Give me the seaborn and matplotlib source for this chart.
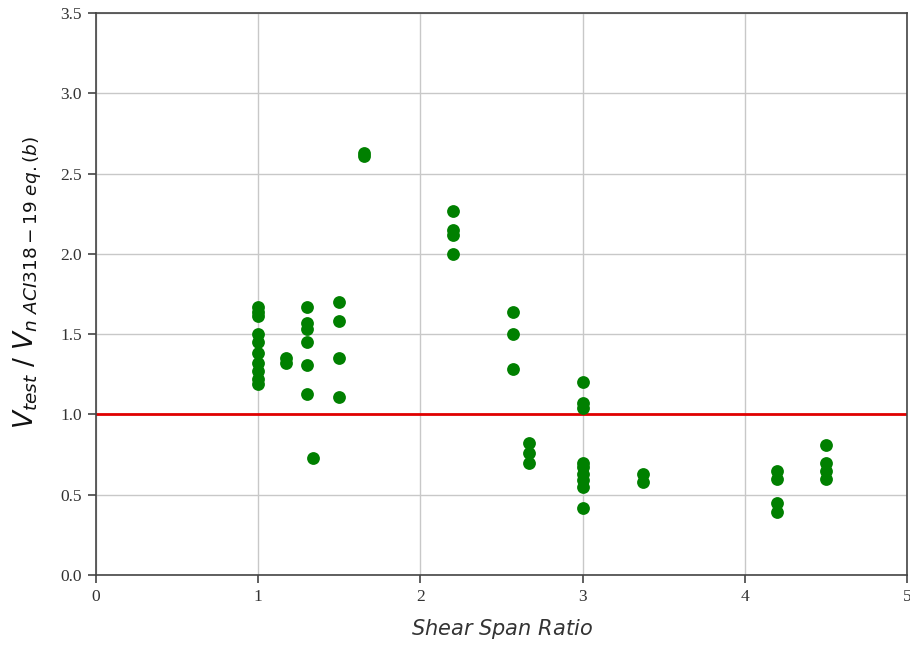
import matplotlib
matplotlib.use("Agg")
import matplotlib.pyplot as plt
import seaborn as sns
import pandas as pd

shear_span_ratio = (
    [1.0] * 10
    + [1.17, 1.17]
    + [1.3] * 6
    + [1.34]
    + [1.5] * 4
    + [1.65, 1.65]
    + [2.2] * 4
    + [2.57] * 3
    + [2.67] * 3
    + [3.0] * 9
    + [3.37, 3.37]
    + [4.2] * 4
    + [4.5] * 4
)
strength_ratio = (
    [1.67, 1.64, 1.61, 1.50, 1.45, 1.38, 1.32, 1.27, 1.22, 1.19]
    + [1.32, 1.35]
    + [1.67, 1.57, 1.53, 1.45, 1.31, 1.13]
    + [0.73]
    + [1.70, 1.58, 1.35, 1.11]
    + [2.61, 2.63]
    + [2.27, 2.15, 2.12, 2.00]
    + [1.64, 1.50, 1.28]
    + [0.82, 0.76, 0.70]
    + [1.20, 1.07, 1.04, 0.70, 0.67, 0.63, 0.59, 0.55, 0.42]
    + [0.63, 0.58]
    + [0.65, 0.60, 0.45, 0.39]
    + [0.81, 0.70, 0.65, 0.60]
)

x_ticks = [0, 1, 2, 3, 4, 5]
y_ticks = [0.0, 0.5, 1.0, 1.5, 2.0, 2.5, 3.0, 3.5]

df = pd.DataFrame({"a_d": shear_span_ratio, "ratio": strength_ratio})

fig = plt.figure(figsize=(9.10, 6.45), dpi=100)
ax = fig.add_axes([96 / 910, 1 - 575 / 645, (907 - 96) / 910, (575 - 13) / 645])

ax.grid(True, color="#c8c8c8", linewidth=1.0, zorder=0)
ax.set_axisbelow(True)
ax.axhline(1.0, color="#e00000", linewidth=2.0, zorder=2)
sns.scatterplot(data=df, x="a_d", y="ratio", ax=ax, color="green", s=85,
                edgecolor="green", linewidth=0, zorder=3, legend=False)

ax.set_xlim(0, 5)
ax.set_ylim(0, 3.5)
ax.set_xticks(x_ticks)
ax.set_yticks(y_ticks)
ax.tick_params(axis="both", length=6, width=1.2, color="#444444", pad=4)
ax.set_xticklabels([str(t) for t in x_ticks], family="Liberation Serif", fontsize=12.5, color="#333333")
ax.set_yticklabels([f"{t:.1f}" for t in y_ticks], family="Liberation Serif", fontsize=12.5, color="#333333")

ax.set_xlabel(r"$Shear\ Span\ Ratio$", fontsize=15, color="#333333", labelpad=9)
ax.set_ylabel(r"$V_{test}$ / $V_{n\ ACI318-19\ eq.(b)}$", fontsize=19, color="#111111")
ax.yaxis.set_label_coords(-0.064, 0.52)

for sp in ax.spines.values():
    sp.set_color("#444444")
    sp.set_linewidth(1.2)

fig.savefig("out.png", dpi=100)
